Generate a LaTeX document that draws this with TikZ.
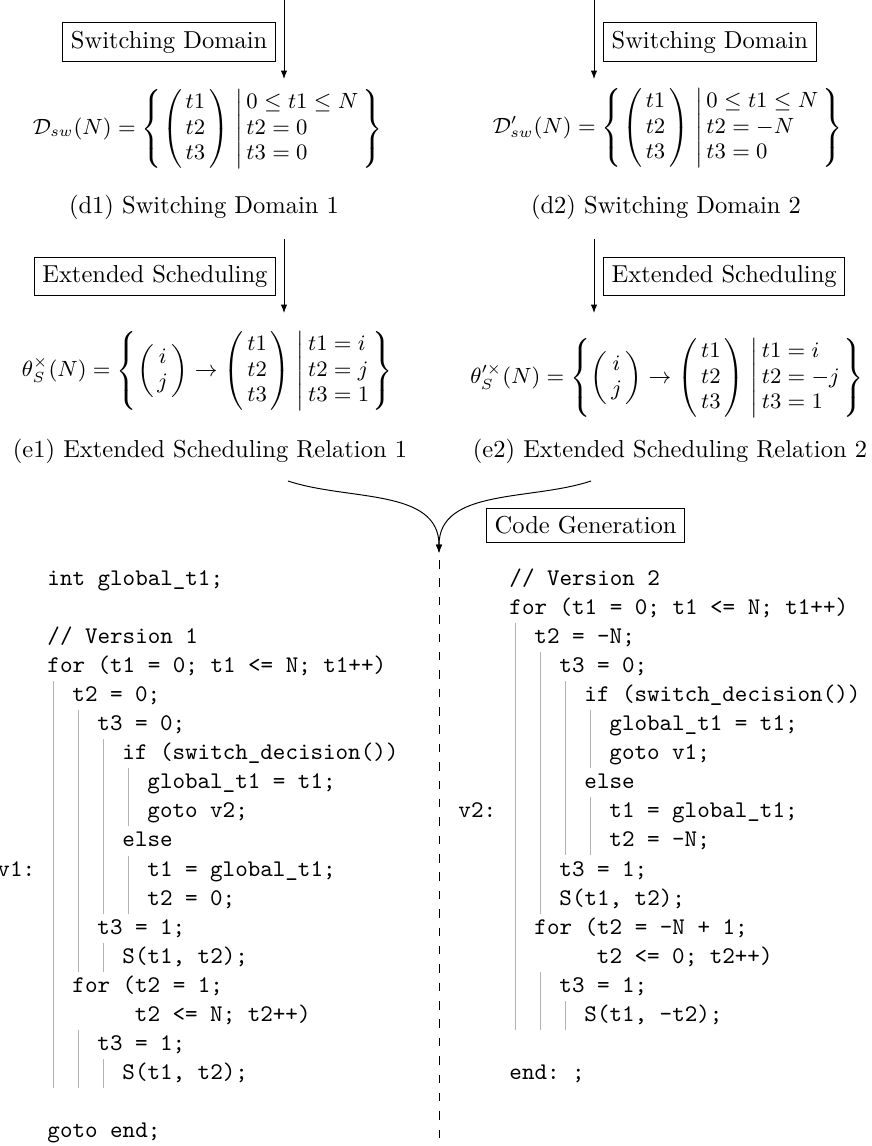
\documentclass[tikz,border=0pt]{standalone}
\usepackage{fontspec}
\usepackage{amsmath}
\usetikzlibrary{arrows.meta,positioning}
\newcommand{\colvec}[1]{\left(\begin{array}{@{\,}c@{\,}}#1\end{array}\right)}
\newcommand{\conds}[1]{\begin{array}{@{}l@{}}#1\end{array}}

\begin{document}
\begin{tikzpicture}[
  x=0.40816pt, y=-0.40816pt,
  stage/.style={draw,inner sep=3.33pt},
  formula/.style={inner sep=0pt,font=\small\renewcommand{\arraystretch}{0.93}},
  caption/.style={inner sep=0pt,anchor=base},
  code/.style={anchor=base west,inner sep=0pt,font=\fontsize{9.75}{11}\selectfont\ttfamily\frenchspacing},
  guide/.style={draw=gray!60,line width=0.4pt},
  flow/.style={-{Latex[length=3.4pt,width=2.6pt]}}
]
\useasboundingbox (0,0) rectangle (871,1146);

% switching domains
\coordinate (src1) at (284,-2);
\coordinate (dst1) at (284,79);
\coordinate (src2) at (594,-2);
\coordinate (dst2) at (594,79);
\draw[flow] (src1) -- (dst1);
\draw[flow] (src2) -- (dst2);
\node[stage,anchor=east] (sw1) at (276,42) {Switching Domain};
\node[stage,anchor=west] (sw2) at (603,42) {Switching Domain};

\node[formula] (dom1) at (207.5,129) {$\mathcal{D}_{sw}(N) = \left\{ \colvec{t1\\ t2\\ t3} \;\middle|\, \conds{0 \leq t1 \leq N\\ t2 = 0\\ t3 = 0} \,\right\}$};
\node[formula] (dom2) at (667.5,128) {$\mathcal{D}'_{sw}(N) = \left\{ \colvec{t1\\ t2\\ t3} \;\middle|\, \conds{0 \leq t1 \leq N\\ t2 = -N\\ t3 = 0} \,\right\}$};
\node[caption] (capd1) at (204,214) {(d1) Switching Domain 1};
\node[caption] (capd2) at (666,214) {(d2) Switching Domain 2};

% extended scheduling
\coordinate (src3) at (284,239);
\coordinate (dst3) at (284,313);
\coordinate (src4) at (594,239);
\coordinate (dst4) at (594,313);
\draw[flow] (src3) -- (dst3);
\draw[flow] (src4) -- (dst4);
\node[stage,anchor=east] (es1) at (276,276.5) {Extended Scheduling};
\node[stage,anchor=west] (es2) at (603,276.5) {Extended Scheduling};

\node[formula] (sch1) at (207.5,371) {$\theta^{\times}_{S}(N) = \left\{ \colvec{i\\ j} \to \colvec{t1\\ t2\\ t3} \;\middle|\, \conds{t1 = i\\ t2 = j\\ t3 = 1} \,\right\}$};
\node[formula] (sch2) at (667,378) {$\theta^{\prime\times}_{S}(N) = \left\{ \colvec{i\\ j} \to \colvec{t1\\ t2\\ t3} \;\middle|\, \conds{t1 = i\\ t2 = -j\\ t3 = 1} \,\right\}$};
\node[caption] (cape1) at (210,457) {(e1) Extended Scheduling Relation 1};
\node[caption] (cape2) at (670,457) {(e2) Extended Scheduling Relation 2};

% code generation
\coordinate (mrg1) at (288,481);
\coordinate (mrg2) at (591,481);
\coordinate (tip) at (439,553);
\coordinate (split) at (439,560);
\coordinate (foot) at (439,1150);
\draw[flow] (mrg1) .. controls +(60,20) and +(0,-65) .. (tip);
\draw[flow] (mrg2) .. controls +(-60,20) and +(0,-65) .. (tip);
\draw[dash pattern=on 3.5pt off 4pt] (split) -- (foot);
\node[stage,anchor=west] (cg) at (486,525.5) {Code Generation};

% version 1
\foreach \row/\lv/\txt [count=\i] in {
  0/0/{int global\_t1;},
  2/0/{// Version 1},
  3/0/{for (t1 = 0; t1 <= N; t1++)},
  4/1/{t2 = 0;},
  5/2/{t3 = 0;},
  6/3/{if (switch\_decision())},
  7/4/{global\_t1 = t1;},
  8/4/{goto v2;},
  9/3/{else},
  10/4/{t1 = global\_t1;},
  11/4/{t2 = 0;},
  12/2/{t3 = 1;},
  13/3/{S(t1, t2);},
  14/1/{for (t2 = 1;},
  15/3.5/{t2 <= N; t2++)},
  16/2/{t3 = 1;},
  17/3/{S(t1, t2);},
  19/0/{goto end;}}
  \node[code] (va\i) at (47+25*\lv,585+29.1*\row) {\txt};
\foreach \lv/\a/\b in {0/4/17, 1/5/13, 1/16/17, 2/6/11, 2/13/13, 2/17/17, 3/7/8, 3/10/11}
  \draw[guide] (53+25*\lv,564.5+29.1*\a) -- (53+25*\lv,593.5+29.1*\b);
\node[code] (lbl1) at (-3,585+29.1*10) {v1:};

% version 2
\foreach \row/\lv/\txt [count=\i] in {
  0/0/{// Version 2},
  1/0/{for (t1 = 0; t1 <= N; t1++)},
  2/1/{t2 = -N;},
  3/2/{t3 = 0;},
  4/3/{if (switch\_decision())},
  5/4/{global\_t1 = t1;},
  6/4/{goto v1;},
  7/3/{else},
  8/4/{t1 = global\_t1;},
  9/4/{t2 = -N;},
  10/2/{t3 = 1;},
  11/2/{S(t1, t2);},
  12/1/{for (t2 = -N + 1;},
  13/3.5/{t2 <= 0; t2++)},
  14/2/{t3 = 1;},
  15/3/{S(t1, -t2);},
  17/0/{end: ;}}
  \node[code] (vb\i) at (509+25*\lv,585+29.1*\row) {\txt};
\foreach \lv/\a/\b in {0/2/15, 1/3/11, 1/14/15, 2/4/9, 2/15/15, 3/5/6, 3/8/9}
  \draw[guide] (515+25*\lv,564.5+29.1*\a) -- (515+25*\lv,593.5+29.1*\b);
\node[code] (lbl2) at (458,585+29.1*8) {v2:};
\end{tikzpicture}
\end{document}
